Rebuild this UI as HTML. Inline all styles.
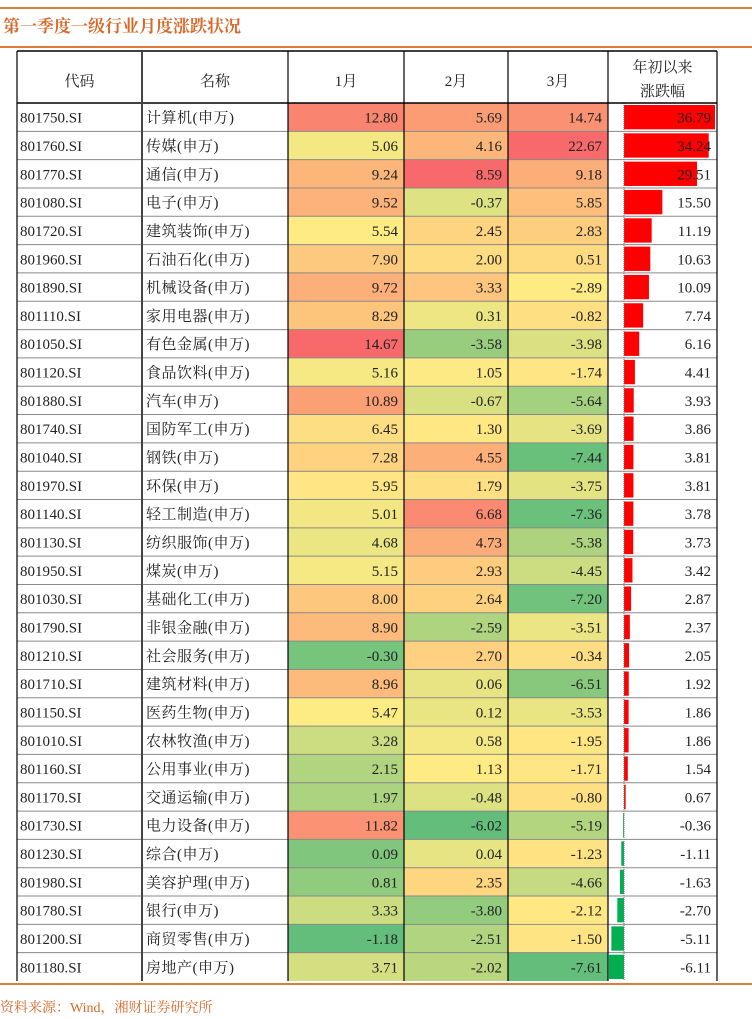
<!DOCTYPE html>
<html><head><meta charset="utf-8">
<style>
body{margin:0;background:#fff;width:752px;height:1019px;overflow:hidden;font-family:"Liberation Serif","Noto Serif CJK SC",serif;}
svg{display:block}
</style></head>
<body>
<svg id="chart" width="752" height="1019" xmlns="http://www.w3.org/2000/svg"></svg>
<script>
const codes=["801750.SI","801760.SI","801770.SI","801080.SI","801720.SI","801960.SI","801890.SI","801110.SI","801050.SI","801120.SI","801880.SI","801740.SI","801040.SI","801970.SI","801140.SI","801130.SI","801950.SI","801030.SI","801790.SI","801210.SI","801710.SI","801150.SI","801010.SI","801160.SI","801170.SI","801730.SI","801230.SI","801980.SI","801780.SI","801200.SI","801180.SI"];
const names=["计算机","传媒","通信","电子","建筑装饰","石油石化","机械设备","家用电器","有色金属","食品饮料","汽车","国防军工","钢铁","环保","轻工制造","纺织服饰","煤炭","基础化工","非银金融","社会服务","建筑材料","医药生物","农林牧渔","公用事业","交通运输","电力设备","综合","美容护理","银行","商贸零售","房地产"];
const jan=[12.80,5.06,9.24,9.52,5.54,7.90,9.72,8.29,14.67,5.16,10.89,6.45,7.28,5.95,5.01,4.68,5.15,8.00,8.90,-0.30,8.96,5.47,3.28,2.15,1.97,11.82,0.09,0.81,3.33,-1.18,3.71];
const feb=[5.69,4.16,8.59,-0.37,2.45,2.00,3.33,0.31,-3.58,1.05,-0.67,1.30,4.55,1.79,6.68,4.73,2.93,2.64,-2.59,2.70,0.06,0.12,0.58,1.13,-0.48,-6.02,0.04,2.35,-3.80,-2.51,-2.02];
const mar=[14.74,22.67,9.18,5.85,2.83,0.51,-2.89,-0.82,-3.98,-1.74,-5.64,-3.69,-7.44,-3.75,-7.36,-5.38,-4.45,-7.20,-3.51,-0.34,-6.51,-3.53,-1.95,-1.71,-0.80,-5.19,-1.23,-4.66,-2.12,-1.50,-7.61];
const ytd=[36.79,34.24,29.51,15.50,11.19,10.63,10.09,7.74,6.16,4.41,3.93,3.86,3.81,3.81,3.78,3.73,3.42,2.87,2.37,2.05,1.92,1.86,1.86,1.54,0.67,-0.36,-1.11,-1.63,-2.70,-5.11,-6.11];
const headers=["代码","名称","1月","2月","3月"];

const NS="http://www.w3.org/2000/svg";
const svg=document.getElementById('chart');
function mk(tag,attrs,parent){const e=document.createElementNS(NS,tag);for(const k in attrs)e.setAttribute(k,attrs[k]);(parent||svg).appendChild(e);return e;}

const cols=[17,142,288,404,508,608,717];
const headTop=51, headBot=103, rowH=(981-103)/31, tblBot=981;
const zeroX=624, scale=(715-624)/36.79;
function rowY(i){return headBot+i*rowH;}

function median(a){const s=[...a].sort((x,y)=>x-y);const n=s.length;return n%2?s[(n-1)/2]:(s[n/2-1]+s[n/2])/2;}
function lerp(c1,c2,t){return `rgb(${c1.map((v,i)=>Math.round(v+(c2[i]-v)*t)).join(',')})`;}
const G=[99,190,123],Y=[255,235,132],R=[248,105,107];
function colorFn(arr){const mn=Math.min(...arr),mx=Math.max(...arr),md=median(arr);
  return v=>v<=md?lerp(G,Y,(v-mn)/(md-mn)):lerp(Y,R,(v-md)/(mx-md));}

// orange lines
let l=mk('rect',{x:0,y:7,width:752,height:2,fill:'#E07B39'});


l=mk('rect',{x:0,y:46,width:752,height:2,fill:'#E07B39'});


l=mk('rect',{x:0,y:983,width:752,height:2,fill:'#E07B39'});


let t=mk('text',{x:3,y:32,'font-size':17,fill:'#D9692A','font-weight':'bold'});
t.textContent='第一季度一级行业月度涨跌状况';


t=mk('text',{x:0,y:1012,'font-size':14,fill:'#D9692A'});
t.textContent='资料来源：Wind，湘财证券研究所';



// cells
const series=[jan,feb,mar];
series.forEach((arr,c)=>{
  const cf=colorFn(arr);
  arr.forEach((v,i)=>{
    const r=mk('rect',{x:cols[c+2],y:rowY(i),width:cols[c+3]-cols[c+2],height:rowH,fill:cf(v)});
    
    
  });
});
// ytd bars
ytd.forEach((v,i)=>{
  const x=v>=0?zeroX:zeroX+v*scale, w=Math.abs(v)*scale;
  const r=mk('rect',{x:x,y:rowY(i)+2,width:Math.max(w,1),height:rowH-4,fill:v>=0?'#FF0000':'#00B050'});
  
  
});
l=mk('line',{x1:zeroX,y1:headBot,x2:zeroX,y2:tblBot,stroke:'#777','stroke-dasharray':'1,1','stroke-width':1});



// grid
for(let i=1;i<31;i++){
  const g=mk('line',{x1:cols[0],y1:rowY(i),x2:cols[6],y2:rowY(i),stroke:'#8a8a8a','stroke-width':1});
  
  
}
let g=mk('line',{x1:cols[0],y1:headTop,x2:cols[6],y2:headTop,stroke:'#000','stroke-width':1.5});


g=mk('line',{x1:cols[0],y1:headBot,x2:cols[6],y2:headBot,stroke:'#000','stroke-width':1.5});


cols.forEach((x,k)=>{
  const v=mk('line',{x1:x,y1:headTop,x2:x,y2:tblBot,stroke:k==1?'#444':'#000','stroke-width':k==1?2:1.2});
  
  
});

// headers
headers.forEach((h,c)=>{
  const tx=mk('text',{x:(cols[c]+cols[c+1])/2,y:86,'font-size':15,'text-anchor':'middle',fill:'#222'});
  tx.textContent=h;
  
  
});
["年初以来","涨跌幅"].forEach((h,k)=>{
  const tx=mk('text',{x:(cols[5]+cols[6])/2,y:72+k*24,'font-size':15,'text-anchor':'middle',fill:'#222'});
  tx.textContent=h;
  
  
});

// rows text
codes.forEach((cd,i)=>{
  const y=rowY(i)+rowH/2+5.5;
  let tx=mk('text',{x:cols[0]+3,y:y,'font-size':15,fill:'#222'});
  tx.textContent=cd;
  
  
  tx=mk('text',{x:cols[1]+4,y:y,'font-size':15,fill:'#222','letter-spacing':'0.5'});
  tx.textContent=names[i]+'(申万)';
  
  
  series.forEach((arr,c)=>{
    const n=mk('text',{x:cols[c+3]-6,y:y,'font-size':15,'text-anchor':'end',fill:'#222'});
    n.textContent=arr[i].toFixed(2);
    
    
  });
  const n=mk('text',{x:cols[6]-6,y:y,'font-size':15,'text-anchor':'end',fill:'#222'});
  n.textContent=ytd[i].toFixed(2);
  
  
});
</script>
</body></html>
